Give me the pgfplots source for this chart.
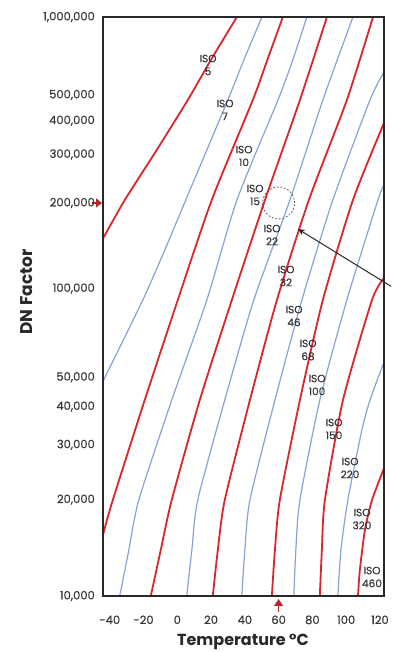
\documentclass[border=0pt]{standalone}
\usepackage{fontspec}
\setmainfont{Poppins}
\newfontfamily\medfont[FakeBold=0.6]{Poppins}
\usepackage{pgfplots}
\pgfplotsset{compat=1.18}
\usetikzlibrary{arrows.meta}
\definecolor{isored}{RGB}{220,36,44}
\definecolor{isoblue}{RGB}{135,162,212}
\definecolor{axgray}{RGB}{40,40,40}
\definecolor{txtgray}{RGB}{55,55,55}
\definecolor{mkred}{RGB}{180,40,40}
\pgfplotsset{
  redline/.style={draw=isored, line width=1.8pt, smooth, tension=0.4, no marks},
  blueline/.style={draw=isoblue, line width=1.2pt, smooth, tension=0.4, no marks},
}
\begin{document}
\begin{tikzpicture}[x=1pt,y=1pt]
\useasboundingbox (0,0) rectangle (392,652);
\begin{axis}[
  at={(103pt,56pt)}, anchor=south west,
  scale only axis, width=281pt, height=579pt,
  xmin=-44, xmax=122.4,
  ymin=10, ymax=1000,
  y coord trafo/.code={\pgfmathparse{0.4342945*ln(#1)-1}\let\tvar\pgfmathresult\pgfmathparse{\tvar+0.0622*\tvar*(2-\tvar)}},
  clip=false,
  axis on top,
  axis line style={draw=axgray, line width=1.4pt},
  major tick length=0pt,
  xtick={-40,-20,0,20,40,60,80,100,120},
  xticklabels={-40,-20,0,20,40,60,80,100,120},
  ytick={10,20,30,40,50,100,200,300,400,500,1000},
  yticklabels={{10,000},{20,000},{30,000},{40,000},{50,000},{100,000},{200,000},{300,000},{400,000},{500,000},{1,000,000}},
  tick label style={font=\medfont\fontsize{11.5}{13}\selectfont, text=txtgray, inner sep=0pt},
  xticklabel style={anchor=base, yshift=-28pt},
  yticklabel style={anchor=east, xshift=-8pt},
]
% ISO 5
\addplot[redline] coordinates {(-44,149.5) (-31.1,204.9) (-12.2,311.5) (6.2,478.3) (19.9,680) (35.3,1000)};
% ISO 7
\addplot[blueline] coordinates {(-44,48.5) (-20.4,91.3) (-7.4,136.2) (5.0,204.9) (29.9,478.3) (39.4,680) (50.1,1000)};
% ISO 10
\addplot[redline] coordinates {(-44,15.5) (-38.2,19.95) (-19.3,42.0) (0.3,91.3) (20.4,204.9) (44.7,478.3) (53.3,680) (62.5,1000)};
% ISO 15
\addplot[blueline] coordinates {(-34.1,10) (-28.7,13.88) (-22.8,19.95) (-3.3,42.0) (17.5,91.3) (35.3,204.9) (59.6,478.3) (68.4,680) (76.7,1000)};
% ISO 22
\addplot[redline] coordinates {(-15.7,10) (-9.8,13.88) (-3.3,19.95) (13.3,42.0) (32.3,91.3) (51.9,204.9) (72.6,478.3) (88.6,1000)};
% ISO 32
\addplot[blueline] coordinates {(5.6,10) (8.6,13.88) (12.1,19.95) (28.1,42.0) (45.3,91.3) (66.7,204.9) (86.2,478.3) (104.0,1000)};
% ISO 46
\addplot[redline] coordinates {(21.0,10) (24.0,13.88) (28.1,19.95) (43.0,42.0) (59.0,91.3) (77.9,204.9) (100.4,478.3) (115.9,1000)};
% ISO 68
\addplot[blueline] coordinates {(38.2,10) (40.0,13.88) (43.0,19.95) (57.8,42.0) (73.8,91.3) (92.1,204.9) (114.1,478.3) (122.4,611)};
% ISO 100
\addplot[redline] coordinates {(56.0,10) (57.8,13.88) (60.7,19.95) (72.6,42.0) (86.2,91.3) (104.0,204.9) (122.4,392.3)};
% ISO 150
\addplot[blueline] coordinates {(69.0,10) (70.2,13.88) (72.6,19.95) (84.4,42.0) (100.4,91.3) (118.8,204.9) (122.4,232)};
% ISO 220
\addplot[redline] coordinates {(84.4,10) (85.6,13.88) (87.4,19.95) (98.1,42.0) (115.3,91.3) (122.4,108.7)};
% ISO 320
\addplot[blueline] coordinates {(95.1,10) (96.9,13.88) (101.0,19.95) (109.3,33.5) (114.1,42.0) (122.4,56.2)};
% ISO 460
\addplot[redline] coordinates {(107.0,10) (108.1,12.03) (111.1,16.04) (115.3,19.95) (122.4,25.2)};
% example: 60 C and DN 200,000
\draw[black!65, line width=0.8pt, dash pattern=on 1.8pt off 1.8pt] (axis cs:60,200) circle[radius=16pt];
\draw[axgray, line width=1pt, -{Stealth[length=7pt,width=6pt]}] ([shift={(7pt,-4.3pt)}]axis cs:122.4,105.3) -- (axis cs:71.4,161.5);
\draw[mkred, line width=1.5pt, -{Triangle[length=6pt,width=9pt]}] ([xshift=-11pt]axis cs:-44,200) -- ([xshift=-1pt]axis cs:-44,200);
\draw[mkred, line width=1.4pt, -{Triangle[length=7pt,width=9pt]}] ([yshift=-16pt]axis cs:60,10) -- ([yshift=-3pt]axis cs:60,10);
\end{axis}
\tikzset{isolab/.style={align=center, font=\medfont\fontsize{10.5}{13}\selectfont, text=txtgray, inner sep=0pt}}
\node[isolab] at (208,587) {ISO\\5};
\node[isolab] at (225,542) {ISO\\7};
\node[isolab] at (244,496) {ISO\\10};
\node[isolab] at (255,457) {ISO\\15};
\node[isolab] at (272,417) {ISO\\22};
\node[isolab] at (286,376) {ISO\\32};
\node[isolab] at (294,336) {ISO\\46};
\node[isolab] at (308,302) {ISO\\68};
\node[isolab] at (317,267) {ISO\\100};
\node[isolab] at (334,223) {ISO\\150};
\node[isolab] at (350,184) {ISO\\220};
\node[isolab] at (362,133) {ISO\\320};
\node[isolab] at (372,75) {ISO\\460};
\node[rotate=90, font=\fontsize{17}{19}\selectfont\bfseries, text=axgray] at (27,360) {DN Factor};
\node[font=\fontsize{16}{18}\selectfont\bfseries, text=axgray] at (243,10) {Temperature °C};
\end{tikzpicture}
\end{document}
